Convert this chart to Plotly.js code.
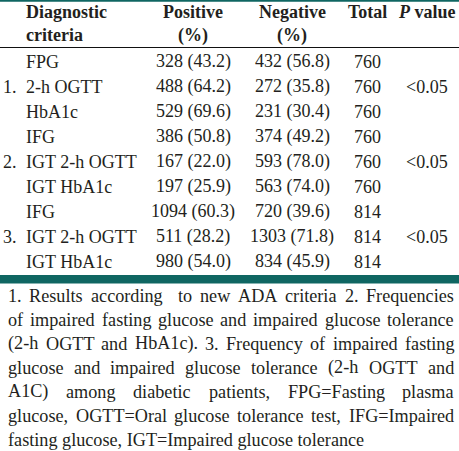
<!DOCTYPE html>
<html><head><meta charset="utf-8">
<script src="https://cdn.plot.ly/plotly-3.0.1.min.js"></script>
<style>html,body{margin:0;padding:0;background:#fff;overflow:hidden}</style>
</head><body><div id="chart" style="width:459px;height:451px"></div>
<script>
// ---- data ----
const groups = ["", "1.", "", "", "2.", "", "", "3.", ""];
const criteria = ["FPG","2-h OGTT","HbA1c","IFG","IGT 2-h OGTT","IGT HbA1c","IFG","IGT 2-h OGTT","IGT HbA1c"];
const positiveN = [328,488,529,386,167,197,1094,511,980];
const positivePct = ["43.2","64.2","69.6","50.8","22.0","25.9","60.3","28.2","54.0"];
const negativeN = [432,272,231,374,593,563,720,1303,834];
const negativePct = ["56.8","35.8","30.4","49.2","78.0","74.0","39.6","71.8","45.9"];
const totals = [760,760,760,760,760,760,814,814,814];
const pValues = ["","<0.05","","","<0.05","","","<0.05",""];
const headerLine1 = ["Diagnostic","Positive","Negative","Total","<i>P</i> value"];
const headerLine2 = ["criteria","(%)","(%)","",""];
const footnoteLines = [
  "1. Results according  to new ADA criteria 2. Frequencies",
  "of impaired fasting glucose and impaired glucose tolerance",
  "(2-h OGTT and HbA1c). 3. Frequency of impaired fasting",
  "glucose and impaired glucose tolerance (2-h OGTT and",
  "A1C) among diabetic patients, FPG=Fasting plasma",
  "glucose, OGTT=Oral glucose tolerance test, IFG=Impaired",
  "fasting glucose, IGT=Impaired glucose tolerance"
];

// ---- layout constants ----
const W = 459, H = 451;
const FAM = 'Liberation Serif';
const FS = 18, FFS = 18.2;
const TXT = '#231f20';
const TEAL = '#0f6662';
const colX = [25, 193, 292, 367, 427];
const groupX = 2;
const rowY0 = 61.5, rowStep = 25;
const headY = [11.5, 35];
const footY0 = 295.5, footStep = 24;
const footL = 7, footR = 453;

function esc(s){ return String(s).replace(/&/g,'&amp;').replace(/</g,'&lt;').replace(/>/g,'&gt;'); }
const ann = [];
function addText(text, x, y, anchor, opts){
  ann.push(Object.assign({
    text: text, x: x, y: y, xref: 'x', yref: 'y',
    xanchor: anchor, yanchor: 'middle', showarrow: false, borderpad: 0,
    font: {family: FAM, size: FS, color: TXT}
  }, opts || {}));
}

// header
headerLine1.forEach((h, j) => {
  if (!h) return;
  addText('<b>' + h + '</b>', colX[j], headY[0], j === 0 ? 'left' : 'center');
});
headerLine2.forEach((h, j) => {
  if (!h) return;
  addText('<b>' + h + '</b>', colX[j], headY[1], j === 0 ? 'left' : 'center');
});

// body rows
criteria.forEach((c, i) => {
  const y = rowY0 + rowStep * i;
  if (groups[i]) addText(groups[i], groupX, y, 'left');
  addText(esc(c), colX[0], y, 'left');
  addText(positiveN[i] + ' (' + positivePct[i] + ')', colX[1], y, 'center');
  addText(negativeN[i] + ' (' + negativePct[i] + ')', colX[2], y, 'center');
  addText(String(totals[i]), colX[3], y, 'center');
  if (pValues[i]) addText(esc(pValues[i]), colX[4], y, 'center');
});

// footnote, justified
const cv = document.createElement('canvas').getContext('2d');
cv.font = FFS + 'px "Liberation Serif"';
footnoteLines.forEach((line, li) => {
  const y = footY0 + footStep * li;
  const fopt = {font: {family: FAM, size: FFS, color: TXT}};
  if (li === footnoteLines.length - 1) { addText(esc(line), footL, y, 'left', fopt); return; }
  const words = line.split(' ');
  const widths = words.map(w => w ? cv.measureText(w).width : 0);
  const total = widths.reduce((a, b) => a + b, 0);
  const gap = (footR - footL - total) / (words.length - 1);
  let x = footL;
  words.forEach((w, k) => {
    if (w) addText(esc(w), x, y, 'left', fopt);
    x += widths[k] + gap;
  });
});

const shapes = [
  {type:'line', xref:'x', yref:'y', x0:0, x1:W, y0:0.8, y1:0.8, line:{color:TEAL, width:2}},
  {type:'line', xref:'x', yref:'y', x0:0, x1:W, y0:47.5, y1:47.5, line:{color:'#111', width:1.2}},
  {type:'rect', xref:'x', yref:'y', x0:0, x1:W, y0:275, y1:283.5, fillcolor:TEAL, line:{width:0}}
];

Plotly.newPlot('chart', [], {
  width: W, height: H,
  margin: {l:0, r:0, t:0, b:0},
  paper_bgcolor: '#fff', plot_bgcolor: '#fff',
  xaxis: {range:[0, W], visible:false, fixedrange:true},
  yaxis: {range:[H, 0], visible:false, fixedrange:true},
  showlegend: false,
  annotations: ann,
  shapes: shapes
}, {staticPlot:true, displayModeBar:false});
</script>
</body></html>
